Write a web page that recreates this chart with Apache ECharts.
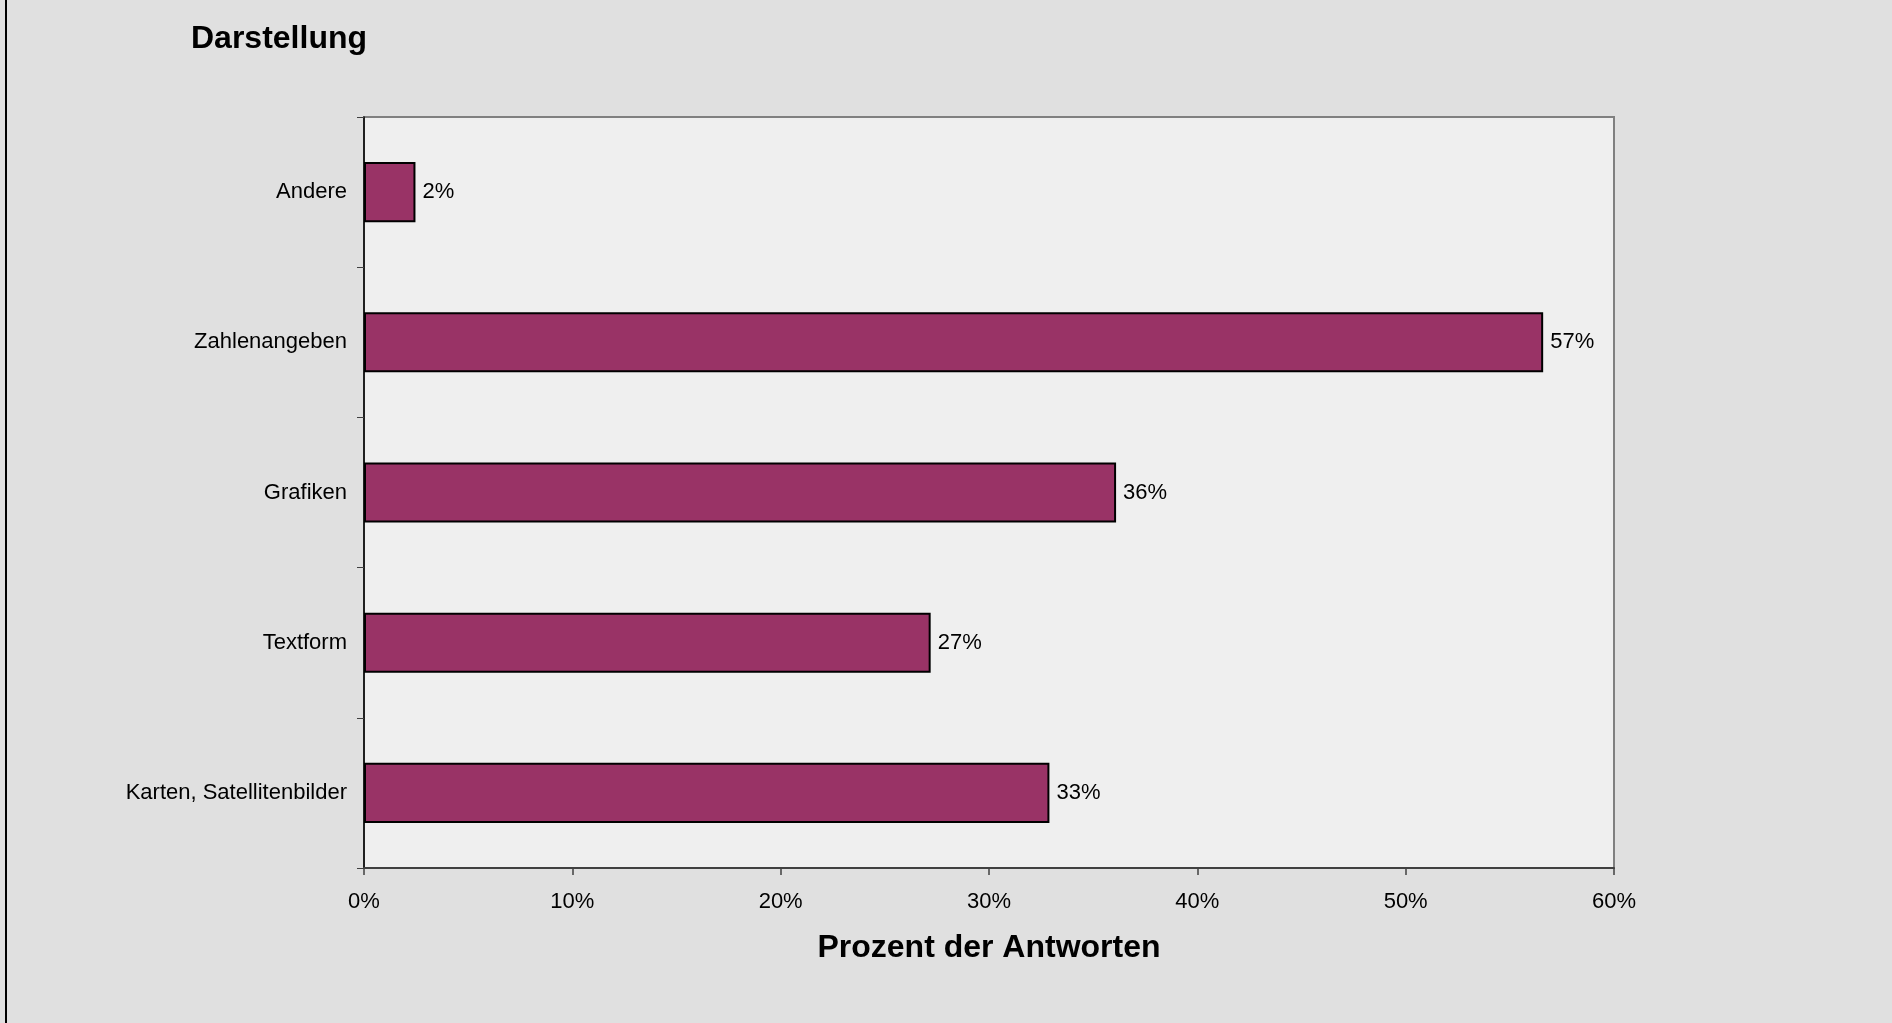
<!DOCTYPE html>
<html>
<head>
<meta charset="utf-8">
<script src="https://cdn.jsdelivr.net/npm/echarts@6/dist/echarts.min.js"></script>
<style>
html,body{margin:0;padding:0;background:#e0e0e0;}
#c{width:1892px;height:1023px;}
</style>
</head>
<body>
<div id="c"></div>
<script>
const titleText = 'Darstellung';
const axisName = 'Prozent der Antworten';
const categories = ['Andere', 'Zahlenangeben', 'Grafiken', 'Textform', 'Karten, Satellitenbilder'];
const values = [2.47, 56.6, 36.1, 27.2, 32.9];
const xMin = 0, xMax = 60, xStep = 10;

const chart = echarts.init(document.getElementById('c'), null, {renderer: 'canvas'});
const FONT = '"Liberation Sans", Arial, sans-serif';
chart.setOption({
  backgroundColor: '#e0e0e0',
  animation: false,
  textStyle: {fontFamily: FONT},
  title: {
    text: titleText,
    left: 186, top: 18,
    textStyle: {fontFamily: FONT, fontSize: 32, fontWeight: 'bold', color: '#000'}
  },
  graphic: [{
    type: 'rect', left: 5, top: 0,
    shape: {width: 2, height: 1023},
    style: {fill: '#000'}
  }],
  grid: {
    left: 364, top: 117, width: 1250, height: 751,
    show: true, backgroundColor: '#efefef', borderColor: '#808080', borderWidth: 2,
    containLabel: false
  },
  xAxis: {
    type: 'value', min: xMin, max: xMax, interval: xStep,
    name: axisName, nameLocation: 'middle', nameGap: 64,
    nameTextStyle: {fontFamily: FONT, fontSize: 32, fontWeight: 'bold', color: '#000'},
    axisLine: {show: true, lineStyle: {color: '#404040', width: 2}},
    axisTick: {show: true, length: 7, lineStyle: {color: '#404040', width: 1.5}},
    axisLabel: {formatter: '{value}%', fontSize: 22, color: '#000', margin: 23, fontFamily: FONT},
    splitLine: {show: false}
  },
  yAxis: {
    type: 'category', data: categories, inverse: true,
    axisLine: {show: true, lineStyle: {color: '#000', width: 1.5}},
    axisTick: {show: true, length: 7, lineStyle: {color: '#404040', width: 1}},
    axisLabel: {fontSize: 22, color: '#000', margin: 17, fontFamily: FONT},
    splitLine: {show: false}
  },
  series: [{
    type: 'bar', data: values, barWidth: '40%',
    itemStyle: {color: '#993366', borderColor: '#000', borderWidth: 2},
    label: {
      show: true, position: 'right', distance: 7,
      fontSize: 22, color: '#000', fontFamily: FONT,
      formatter: p => Math.round(p.value) + '%'
    }
  }]
});
</script>
</body>
</html>
